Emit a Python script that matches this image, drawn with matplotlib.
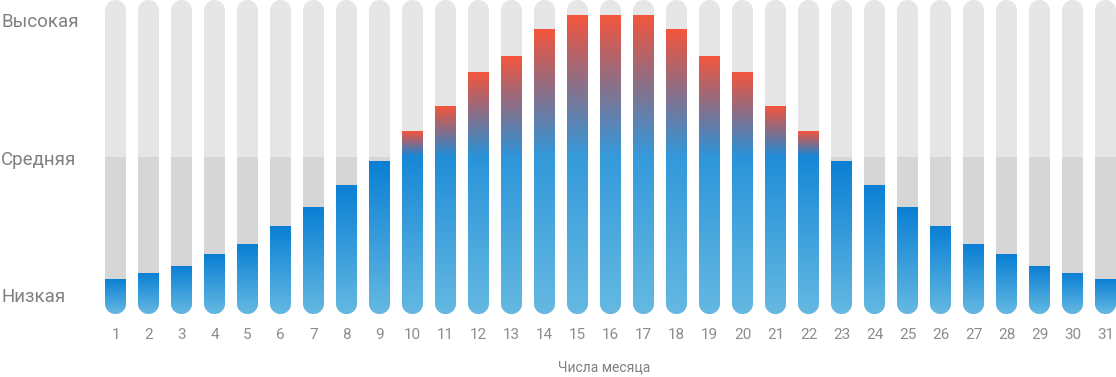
import numpy as np
import matplotlib
matplotlib.use("Agg")
import matplotlib.pyplot as plt
from matplotlib.patches import Polygon
from matplotlib.colors import to_rgb
from matplotlib.transforms import blended_transform_factory

# ---- data ----
days = list(range(1, 32))
values = [11, 13, 15, 19, 22, 28, 34, 41, 48.5, 58, 66, 77, 82, 90.5, 95, 95,
          95, 90.5, 82, 77, 66, 58, 48.5, 41, 34, 28, 22, 19, 15, 13, 11]
level_names = ["Низкая", "Средняя", "Высокая"]
level_pos = [5.4, 49, 93]
xlabel = "Числа месяца"
medium = 50
scale_max = 100

# ---- style ----
W, H = 1116, 377
fig = plt.figure(figsize=(W / 100, H / 100), dpi=100)
ax = fig.add_axes([0, 0, 1, 1])
ax.axis("off")
x0 = 1 - 115.5 / 33
x1 = 1 + 1000.5 / 33
y0 = -(377 - 314) / 3.14
y1 = 100
ax.set_xlim(x0, x1)
ax.set_ylim(y0, y1)

px_x = W / (x1 - x0)
px_y = H / (y1 - y0)
bw = 21 / px_x
rx = bw / 2
ry = rx * px_x / px_y

light = "#e6e6e6"
dark = "#d6d6d6"
blue_top = np.array(to_rgb("#0a7fd4"))
blue_bot = np.array(to_rgb("#65b9e2"))
red = np.array(to_rgb("#f5563d"))


def pill(cx, top):
    t1 = np.linspace(0, np.pi, 40)
    t2 = np.linspace(np.pi, 2 * np.pi, 40)
    upper = np.column_stack([cx + rx * np.cos(t1), top - ry + ry * np.sin(t1)])
    lower = np.column_stack([cx + rx * np.cos(t2), 0 + ry + ry * np.sin(t2)])
    return np.vstack([upper, lower])


for d, v in zip(days, values):
    clip = Polygon(pill(d, scale_max), closed=True, transform=ax.transData,
                   facecolor="none", edgecolor="none")
    ax.add_patch(clip)
    b1 = ax.bar(d, scale_max, width=bw, color=light, zorder=1)
    b2 = ax.bar(d, medium, width=bw, color=dark, zorder=2)
    for b in list(b1) + list(b2):
        b.set_clip_path(clip)
    n = 400
    ys = np.linspace(v, 0, n)
    f = ys / v
    col = blue_bot[None, :] * (1 - f[:, None]) + blue_top[None, :] * f[:, None]
    if v > medium:
        a = np.clip((ys - medium) / (v - medium), 0, 1)[:, None]
        col = col * (1 - a) + red[None, :] * a
    img = np.repeat(col[:, None, :], 4, axis=1)
    im = ax.imshow(img, extent=(d - bw / 2, d + bw / 2, 0, v), aspect="auto",
                   interpolation="bilinear", zorder=3)
    im.set_clip_path(clip)
    ax.text(d, -6.7, str(d), ha="center", va="center", fontsize=11,
            color="#8c8c8c", family="Roboto")

trans = blended_transform_factory(fig.transFigure, ax.transData)
for name, p in zip(level_names, level_pos):
    ax.text(0.001, p, name, transform=trans, ha="left", va="center", fontsize=13.5,
            color="#808080", family="Roboto")

ax.text(x0 + 604 / px_x, -16.9, xlabel, ha="center", va="center", fontsize=10,
        color="#808080", family="Roboto")

ax.set_xlim(x0, x1)
ax.set_ylim(y0, y1)
fig.savefig("out.png", dpi=100)
